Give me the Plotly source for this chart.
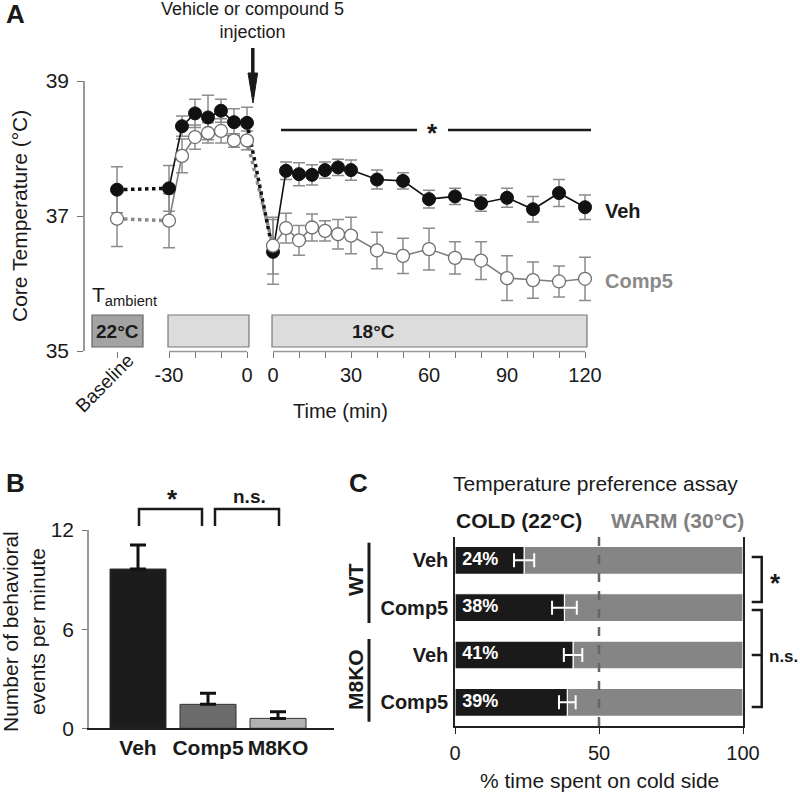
import plotly.graph_objects as go

W, H = 800, 792
FONT = "Liberation Sans, Arial, sans-serif"
INK = "#1a1a1a"

# ---- Panel A: core temperature (degC) ----
baseline_veh, baseline_veh_err = 37.39, 0.34
baseline_comp5, baseline_comp5_err = 36.96, 0.41

pre_time = [-30, -25, -20, -15, -10, -5, 0]
veh_pre = [37.41, 38.33, 38.52, 38.46, 38.56, 38.39, 38.38]
veh_pre_err = [0.34, 0.15, 0.21, 0.33, 0.17, 0.20, 0.23]
comp5_pre = [36.93, 37.89, 38.17, 38.23, 38.26, 38.12, 38.12]
comp5_pre_err = [0.40, 0.25, 0.18, 0.15, 0.18, 0.10, 0.14]

post_time = [0, 5, 10, 15, 20, 25, 30, 40, 50, 60, 70, 80, 90, 100, 110, 120]
veh_post = [36.47, 37.67, 37.62, 37.61, 37.68, 37.72, 37.68, 37.54,
            37.52, 37.25, 37.29, 37.19, 37.27, 37.10, 37.34, 37.13]
veh_post_err = [0.48, 0.13, 0.17, 0.15, 0.12, 0.12, 0.15, 0.14,
                0.12, 0.13, 0.12, 0.12, 0.14, 0.19, 0.20, 0.18]
comp5_post = [36.56, 36.82, 36.64, 36.83, 36.78, 36.73, 36.71, 36.49,
              36.41, 36.51, 36.38, 36.34, 36.08, 36.05, 36.03, 36.07]
comp5_post_err = [0.42, 0.22, 0.22, 0.20, 0.15, 0.22, 0.27, 0.27,
                  0.26, 0.31, 0.24, 0.28, 0.33, 0.27, 0.23, 0.32]

# ---- Panel B: behavioral events per minute ----
b_groups = ["Veh", "Comp5", "M8KO"]
b_events = [9.64, 1.45, 0.60]
b_err = [1.45, 0.67, 0.40]

# ---- Panel C: temperature preference ----
c_groups = ["Veh", "Comp5", "Veh", "Comp5"]
c_cold_pct = [24, 38, 41, 39]
c_err = [3.5, 4.3, 3.2, 2.9]

# layout helpers (pixel -> paper)
def px(x):
    return x / W


def py(y):
    return 1 - y / H


# panel A time axis: baseline sits 20 min left of -30, post-injection block shifted by 10
BASE_X = -50
SHIFT = 10
A_X0, A_PX_PER_MIN = 247, 2.6


def ax_u(pix):
    return (pix - A_X0) / A_PX_PER_MIN


post_x = [t + SHIFT for t in post_time]
veh_x = [BASE_X] + pre_time + post_x
veh_y = [baseline_veh] + veh_pre + veh_post
veh_e = [baseline_veh_err] + veh_pre_err + veh_post_err
comp_y = [baseline_comp5] + comp5_pre + comp5_post
comp_e = [baseline_comp5_err] + comp5_pre_err + comp5_post_err

fig = go.Figure()

ERR_GREY = "#8c8c8c"
for ys, es in [(comp_y, comp_e), (veh_y, veh_e)]:
    fig.add_trace(go.Scatter(
        x=veh_x, y=ys, mode="markers", marker=dict(size=1, color="rgba(0,0,0,0)"),
        error_y=dict(type="data", array=es, color=ERR_GREY, thickness=1.5, width=6),
        hoverinfo="skip", xaxis="x", yaxis="y"))

# dotted connectors (baseline -> -30, injection gap)
for base, pre, post, col in [(baseline_comp5, comp5_pre, comp5_post, "#8a8a8a"),
                             (baseline_veh, veh_pre, veh_post, "#111111")]:
    fig.add_trace(go.Scatter(
        x=[BASE_X, pre_time[0], None, pre_time[-1], post_x[0]],
        y=[base, pre[0], None, pre[-1], post[0]],
        mode="lines", line=dict(color=col, width=3.5, dash="dot"),
        hoverinfo="skip", xaxis="x", yaxis="y"))

# solid segments
fig.add_trace(go.Scatter(
    x=pre_time + [None] + post_x, y=comp5_pre + [None] + comp5_post,
    mode="lines", line=dict(color="#808080", width=1.6), xaxis="x", yaxis="y"))
fig.add_trace(go.Scatter(
    x=pre_time + [None] + post_x, y=veh_pre + [None] + veh_post,
    mode="lines", line=dict(color="#111111", width=1.6), xaxis="x", yaxis="y"))

fig.add_trace(go.Scatter(
    x=veh_x, y=veh_y, mode="markers",
    marker=dict(size=13, color="#111111", line=dict(color="#111111", width=1)),
    xaxis="x", yaxis="y", name="Veh"))
fig.add_trace(go.Scatter(
    x=veh_x, y=comp_y, mode="markers",
    marker=dict(size=13, color="white", line=dict(color="#707070", width=1.3)),
    xaxis="x", yaxis="y", name="Comp5"))

# ---- Panel B bars ----
fig.add_trace(go.Bar(
    x=b_groups, y=b_events, width=0.8,
    marker=dict(color=["#1c1c1c", "#6b6b6b", "#b2b2b2"], line=dict(color="#333333", width=1)),
    error_y=dict(type="data", array=b_err, arrayminus=[0] * len(b_err), symmetric=False,
                 color="#111111", thickness=3, width=8),
    xaxis="x2", yaxis="y2"))

# ---- Panel C bars ----
rows = list(range(len(c_groups)))
fig.add_trace(go.Bar(
    y=rows, x=[100 - v for v in c_cold_pct], base=c_cold_pct, orientation="h", width=0.59,
    marker=dict(color="#858585", line=dict(color="white", width=1.2)),
    xaxis="x3", yaxis="y3"))
fig.add_trace(go.Bar(
    y=rows, x=c_cold_pct, orientation="h", width=0.59,
    marker=dict(color="#1a1a1a", line=dict(color="white", width=1.2)),
    xaxis="x3", yaxis="y3"))
fig.add_trace(go.Scatter(
    x=c_cold_pct, y=rows, mode="markers", marker=dict(size=1, color="rgba(0,0,0,0)"),
    error_x=dict(type="data", array=c_err, color="white", thickness=2, width=7),
    xaxis="x3", yaxis="y3"))
fig.add_trace(go.Scatter(
    x=[2.5] * len(rows), y=rows, mode="text", text=[f"{v}%" for v in c_cold_pct],
    textposition="middle right",
    textfont=dict(color="white", size=18, family=FONT, weight="bold"),
    xaxis="x3", yaxis="y3"))

# ---- axes ----
a_tickvals = [BASE_X] + list(range(-30, 1, 10)) + [t + SHIFT for t in range(0, 121, 10)]
a_ticktext = [" ", "-30", " ", " ", "0"] + [str(t) if t % 30 == 0 else " " for t in range(0, 121, 10)]

axis_common = dict(showgrid=False, zeroline=False, fixedrange=True, automargin=False)
fig.update_layout(
    xaxis=dict(domain=[px(85), px(595)], range=[ax_u(85), ax_u(595)], anchor="y",
               tickvals=a_tickvals, ticktext=a_ticktext, ticks="outside", ticklen=6,
               tickcolor="#777", showline=False, ticklabelstandoff=0, tickangle=0,
               tickfont=dict(size=20, color=INK), **axis_common),
    yaxis=dict(domain=[py(351), py(81)], range=[35, 39], anchor="x",
               tickvals=[35, 37, 39], ticks="outside", ticklen=6, tickcolor="#777",
               showline=True, linecolor="#999", linewidth=1.5, ticklabelstandoff=4,
               tickfont=dict(size=21, color=INK), **axis_common),
    xaxis2=dict(domain=[px(89), px(334)], range=[-0.7, 2.8], anchor="y2",
                ticks="", showline=True, linecolor="#222", linewidth=1.5, tickangle=0,
                tickfont=dict(size=21, color=INK, weight="bold"), **axis_common),
    yaxis2=dict(domain=[py(728.3), py(530)], range=[0, 12], anchor="x2",
                tickvals=[0, 6, 12], ticks="outside", ticklen=5, tickcolor="#777",
                showline=True, linecolor="#999", linewidth=1.5, ticklabelstandoff=4,
                tickfont=dict(size=21, color=INK), **axis_common),
    xaxis3=dict(domain=[px(455), px(743)], range=[0, 100], anchor="y3",
                tickvals=[0, 50, 100], ticks="outside", ticklen=6, tickcolor="#222",
                showline=True, linecolor="#222", linewidth=1.5, ticklabelstandoff=2,
                tickangle=0, tickfont=dict(size=20, color=INK), **axis_common),
    yaxis3=dict(domain=[py(726), py(536.7)], range=[3.5, -0.5], anchor="x3",
                tickvals=rows, ticktext=c_groups, ticks="", ticklabelstandoff=1,
                showline=True, mirror=True, linecolor="#222", linewidth=1.5,
                tickfont=dict(size=20, color=INK, weight="bold"), **axis_common),
)

shapes = []
# panel A broken x-axis segments
for x0, x1 in [(pre_time[0], pre_time[-1]), (post_x[0], post_x[-1])]:
    shapes.append(dict(type="line", xref="x", yref="paper", x0=x0, x1=x1,
                       y0=py(351.5), y1=py(351.5), line=dict(color="#999", width=1.5)))
# ambient temperature boxes
shapes.append(dict(type="rect", xref="paper", yref="paper", x0=px(92), x1=px(143),
                   y0=py(347), y1=py(315), fillcolor="#a3a3a3", line=dict(color="#666", width=1.2)))
for x0, x1 in [(168, 249), (272, 587)]:
    shapes.append(dict(type="rect", xref="paper", yref="paper", x0=px(x0), x1=px(x1),
                       y0=py(347), y1=py(315), fillcolor="#dcdcdc", line=dict(color="#777", width=1.2)))
# injection arrow
shapes.append(dict(type="line", xref="paper", yref="paper", x0=px(252.8), x1=px(252.8),
                   y0=py(48), y1=py(76), line=dict(color=INK, width=3.5)))
shapes.append(dict(type="path", xref="paper", yref="paper",
                   path=f"M {px(248)},{py(73)} L {px(257.6)},{py(73)} L {px(253)},{py(103)} Z",
                   fillcolor=INK, line=dict(color=INK, width=1)))
# significance line
for x0, x1 in [(281, 417), (448, 591)]:
    shapes.append(dict(type="line", xref="paper", yref="paper", x0=px(x0), x1=px(x1),
                       y0=py(130), y1=py(130), line=dict(color=INK, width=2.5)))
# panel B brackets
for x0, x1 in [(139, 202), (215, 279)]:
    shapes.append(dict(type="path", xref="paper", yref="paper",
                       path=f"M {px(x0)},{py(526)} L {px(x0)},{py(509)} L {px(x1)},{py(509)} L {px(x1)},{py(526)}",
                       line=dict(color=INK, width=2.5)))
# panel C dashed 50% line
shapes.append(dict(type="line", xref="x3", yref="paper", x0=50, x1=50,
                   y0=py(726), y1=py(536.7), line=dict(color="#666", width=2.5, dash="dash")))
# group lines WT / M8KO
for y0, y1 in [(542.7, 623), (639, 721.7)]:
    shapes.append(dict(type="line", xref="paper", yref="paper", x0=px(369), x1=px(369),
                       y0=py(y0), y1=py(y1), line=dict(color=INK, width=3)))
# panel C right brackets
shapes.append(dict(type="path", xref="paper", yref="paper",
                   path=f"M {px(751.7)},{py(557)} L {px(761.7)},{py(557)} L {px(761.7)},{py(602)} L {px(751.7)},{py(602)}",
                   line=dict(color=INK, width=2.5)))
shapes.append(dict(type="path", xref="paper", yref="paper",
                   path=f"M {px(751.7)},{py(610)} L {px(761.7)},{py(610)} L {px(761.7)},{py(707)} L {px(751.7)},{py(707)}",
                   line=dict(color=INK, width=2.5)))
shapes.append(dict(type="line", xref="paper", yref="paper", x0=px(751.7), x1=px(761.7),
                   y0=py(655), y1=py(655), line=dict(color=INK, width=2.5)))


def note(text, x, y, size=20, color=INK, bold=False, xanchor="center", angle=0):
    return dict(text=f"<b>{text}</b>" if bold else text, x=px(x), y=py(y), xref="paper", yref="paper",
                showarrow=False, xanchor=xanchor, yanchor="middle", textangle=angle,
                font=dict(family=FONT, size=size, color=color))


annotations = [
    note("A", 4, 14, size=26, bold=True, xanchor="left"),
    note("B", 4, 483, size=26, bold=True, xanchor="left"),
    note("C", 347, 483, size=26, bold=True, xanchor="left"),
    note("Vehicle or compound 5<br>injection", 252, 20, size=18),
    note("*", 432, 133, size=26, bold=True),
    note("Veh", 603, 211, size=20, bold=True, xanchor="left"),
    note("Comp5", 603, 281, size=20, bold=True, color="#8a8a8a", xanchor="left"),
    note("T<sub>ambient</sub>", 90, 296, size=21, xanchor="left"),
    note("22°C", 117.5, 331, size=19, bold=True),
    note("18°C", 373, 331, size=19, bold=True),
    note("Baseline", 104, 383, size=19, angle=-45),
    note("Time (min)", 340, 411, size=20),
    note("Core Temperature (°C)", 20, 216, size=21, angle=-90),
    note("Number of behavioral<br>events per minute", 24, 632, size=21, angle=-90),
    note("*", 172, 499, size=26, bold=True),
    note("n.s.", 249, 496, size=19, bold=True),
    note("Temperature preference assay", 595, 483, size=21),
    note("COLD (22°C)", 519, 520, size=21, bold=True),
    note("WARM (30°C)", 677, 520, size=21, bold=True, color="#808080"),
    note("% time spent on cold side", 599, 780, size=21),
    note("WT", 355, 580, size=21, bold=True, angle=-90),
    note("M8KO", 355, 680, size=21, bold=True, angle=-90),
    note("*", 775, 583, size=26, bold=True),
    note("n.s.", 767, 656, size=17, bold=True, xanchor="left"),
]

fig.update_layout(
    width=W, height=H, autosize=False,
    margin=dict(l=0, r=0, t=0, b=0, pad=0, autoexpand=False),
    paper_bgcolor="white", plot_bgcolor="white", showlegend=False,
    barmode="overlay", font=dict(family=FONT, color=INK),
    shapes=shapes, annotations=annotations,
)

# drop the browser's default 8px body margin so the figure sits at the page origin
fig.write_html("out.html", config={"displayModeBar": False},
               post_script="document.body.style.margin='0px';")
